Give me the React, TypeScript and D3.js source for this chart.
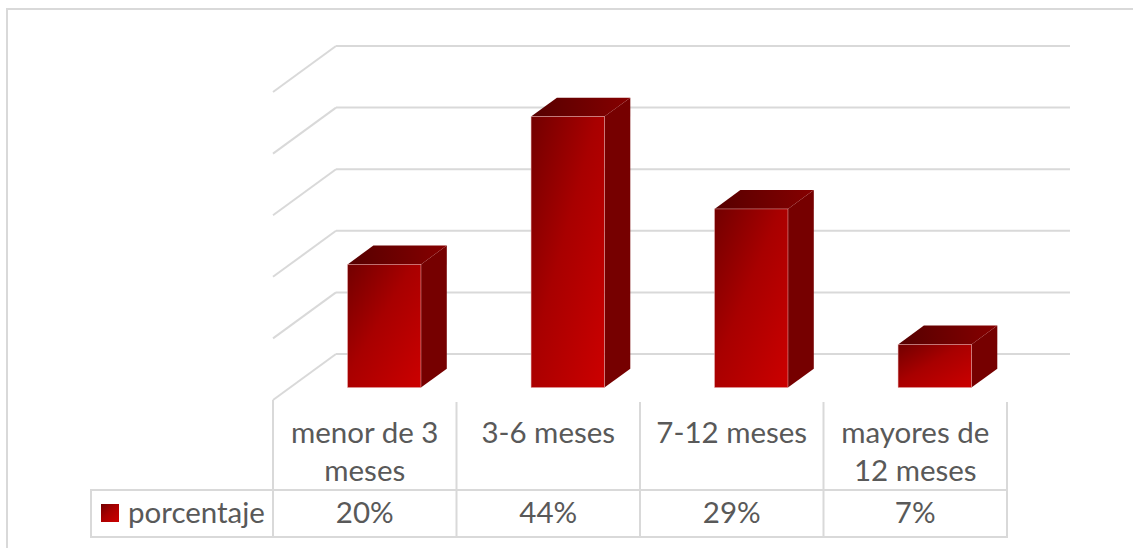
import * as d3 from 'd3';

// 3D column chart with data table underneath
const CATEGORIES = ['menor de 3 meses', '3-6 meses', '7-12 meses', 'mayores de 12 meses'];
const CATEGORY_LINES = [['menor de 3', 'meses'], ['3-6 meses'], ['7-12 meses'], ['mayores de', '12 meses']];
const SERIES_NAME = 'porcentaje';
const VALUES = [20, 44, 29, 7];
const Y_TICKS = [0, 10, 20, 30, 40, 50];

const W = 1133;
const H = 548;
const FLOOR_X = 273;      // front-left corner of the floor
const FLOOR_Y = 400;
const FLOOR_W = 734;
const DEPTH_DX = 63;
const DEPTH_DY = -46;
const PLOT_H = 308;
const BAR_F0 = 0.27;      // depth of bar front face
const BAR_F1 = 0.68;      // depth of bar back face
const BAR_SHIFT = 2.5;
const GRID = '#d9d9d9';
const TEXT = '#595959';
const FONT = 'Lato, "Open Sans", sans-serif';
const FS = 29.5;

const x = d3.scaleBand<string>().domain(CATEGORIES).range([0, FLOOR_W]);
const y = d3.scaleLinear().domain([0, 50]).range([0, PLOT_H]);

function P(px: number, v: number, f: number): [number, number] {
  return [FLOOR_X + px + DEPTH_DX * f, FLOOR_Y + DEPTH_DY * f - y(v)];
}
const pts = (a: [number, number][]) => a.map(p => p.join(',')).join(' ');

const TABLE_TOP = 402;
const ROW_Y = 490;
const TABLE_BOTTOM = 537;
const LEGEND_X = 91;

export default function App() {
  const barW = x.bandwidth() * 0.4;
  return (
    <svg width={W} height={H} style={{ position: 'absolute', left: 0, top: 0, background: '#fff' }}>
      <defs>
        <linearGradient id="front" x1="0" y1="0" x2="1" y2="1">
          <stop offset="0%" stopColor="#720000" />
          <stop offset="45%" stopColor="#a80000" />
          <stop offset="100%" stopColor="#cc0000" />
        </linearGradient>
        <linearGradient id="top" x1="0" y1="0" x2="1" y2="0">
          <stop offset="0%" stopColor="#560000" />
          <stop offset="100%" stopColor="#860000" />
        </linearGradient>
      </defs>
      {/* chart border */}
      <rect x={7} y={9} width={W + 20} height={H + 20} fill="none" stroke={GRID} strokeWidth={2} />

      {/* gridlines: back wall and side wall */}
      {Y_TICKS.map(t => {
        const a = P(0, t, 0), b = P(0, t, 1), c = P(FLOOR_W, t, 1);
        return (
          <g key={t}>
            <line x1={a[0]} y1={a[1]} x2={b[0]} y2={b[1]} stroke={GRID} strokeWidth={2} />
            <line x1={b[0]} y1={b[1]} x2={c[0]} y2={c[1]} stroke={GRID} strokeWidth={2} />
          </g>
        );
      })}

      {/* bars */}
      {CATEGORIES.map((c, i) => {
        const v = VALUES[i];
        const x0 = (x(c) ?? 0) + (x.bandwidth() - barW) / 2 + BAR_SHIFT;
        const x1 = x0 + barW;
        const ft = P(x0, v, BAR_F0);
        const fb = P(x1, 0, BAR_F0);
        return (
          <g key={c}>
            <polygon points={pts([P(x1, 0, BAR_F0), P(x1, v, BAR_F0), P(x1, v, BAR_F1), P(x1, 0, BAR_F1)])} fill="#760000" />
            <polygon points={pts([P(x0, v, BAR_F0), P(x1, v, BAR_F0), P(x1, v, BAR_F1), P(x0, v, BAR_F1)])} fill="url(#top)" />
            <rect x={ft[0]} y={ft[1]} width={fb[0] - ft[0]} height={fb[1] - ft[1]} fill="url(#front)" stroke="#e8b0b0" strokeWidth={0.5} />
          </g>
        );
      })}

      {/* data table */}
      {CATEGORIES.map((c, i) => (
        <line key={c} x1={FLOOR_X + x.step() * i} y1={TABLE_TOP} x2={FLOOR_X + x.step() * i} y2={TABLE_BOTTOM} stroke={GRID} strokeWidth={2} />
      ))}
      <line x1={FLOOR_X + FLOOR_W} y1={TABLE_TOP} x2={FLOOR_X + FLOOR_W} y2={TABLE_BOTTOM} stroke={GRID} strokeWidth={2} />
      <line x1={FLOOR_X} y1={FLOOR_Y} x2={FLOOR_X} y2={TABLE_TOP} stroke={GRID} strokeWidth={2} />
      <line x1={LEGEND_X} y1={ROW_Y} x2={FLOOR_X + FLOOR_W + 1} y2={ROW_Y} stroke={GRID} strokeWidth={2} />
      <line x1={LEGEND_X} y1={TABLE_BOTTOM} x2={FLOOR_X + FLOOR_W + 1} y2={TABLE_BOTTOM} stroke={GRID} strokeWidth={2} />
      <line x1={LEGEND_X} y1={ROW_Y - 1} x2={LEGEND_X} y2={TABLE_BOTTOM + 1} stroke={GRID} strokeWidth={2} />

      {CATEGORIES.map((c, i) => {
        const cx = FLOOR_X + (x(c) ?? 0) + x.bandwidth() / 2;
        return (
          <g key={c} fontFamily={FONT} fontSize={FS} fill={TEXT} textAnchor="middle">
            {CATEGORY_LINES[i].map((l, j) => (
              <text key={j} x={cx} y={443 + j * 38}>{l}</text>
            ))}
            <text x={cx} y={523}>{VALUES[i]}%</text>
          </g>
        );
      })}

      <rect x={101} y={504} width={18} height={18} fill="url(#front)" />
      <text x={128} y={523} fontFamily={FONT} fontSize={FS} fill={TEXT}>{SERIES_NAME}</text>
    </svg>
  );
}
